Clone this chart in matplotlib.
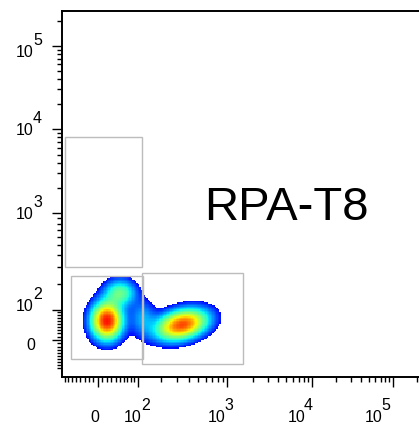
import numpy as np
import matplotlib
matplotlib.use("Agg")
import matplotlib.pyplot as plt
from matplotlib.colors import ListedColormap, PowerNorm
from matplotlib.patches import Rectangle

plt.rcParams['font.family'] = ['Liberation Sans', 'DejaVu Sans']

# ---------------- data ----------------
marker_label = "RPA-T8"

tick_values = [0, 1e2, 1e3, 1e4, 1e5]
tick_exponents = ["", "2", "3", "4", "5"]
axis_max = 262144
x_min = -88
y_min = -123

# cell populations: centres in fluorescence units, spread in display decades
pop_x = [20, 51, 118, 337]
pop_y = [59, 161, 69, 46]
pop_sx = [0.115, 0.12, 0.10, 0.19]
pop_sy = [0.14, 0.10, 0.14, 0.115]
pop_rho = [0.0, 0.0, 0.0, 0.3]
pop_w = [1.0, 0.35, 0.15, 0.9]

# rectangular gates, fluorescence units
gate_x0 = [-80, -63, 115]
gate_x1 = [115, 118, 1544]
gate_y0 = [304, -59, -76]
gate_y1 = [8030, 245, 264]

# ---------------- biexponential-style display scale ----------------
W = 100.0
anchor_vals = np.array([-1e6, -1e5, -1e4, -1e3, -1e2, 0, 1e2, 1e3, 1e4, 1e5, 1e6])
x_anchor_pos = np.array([-4.53, -3.554, -2.578, -1.554, -0.48, 0, 0.48, 1.554, 2.578, 3.554, 4.53])
y_anchor_pos = np.array([-4.53, -3.53, -2.53, -1.518, -0.361, 0, 0.361, 1.518, 2.53, 3.53, 4.53])


def _h(v):
    return np.arcsinh(np.asarray(v, dtype=float) / W) / np.log(10)


def make_scale(pos):
    hv = _h(anchor_vals)

    def fwd(v):
        return np.interp(_h(v), hv, pos)

    def inv(p):
        return W * np.sinh(np.interp(np.asarray(p, dtype=float), pos, hv) * np.log(10))

    return fwd, inv


fx, ix = make_scale(x_anchor_pos)
fy, iy = make_scale(y_anchor_pos)

# ---------------- figure ----------------
fig = plt.figure(figsize=(4.19, 4.32), dpi=100)
ax = fig.add_axes([62 / 419, 55 / 432, 365 / 419, 366 / 432])
ax.set_xscale('function', functions=(fx, ix))
ax.set_yscale('function', functions=(fy, iy))
ax.set_xlim(x_min, axis_max)
ax.set_ylim(y_min, axis_max)

# density in display space
nx, ny = 260, 260
ue = np.linspace(fx(x_min), fx(axis_max), nx + 1)
ve = np.linspace(fy(y_min), fy(axis_max), ny + 1)
uc = 0.5 * (ue[:-1] + ue[1:])
vc = 0.5 * (ve[:-1] + ve[1:])
U, V = np.meshgrid(uc, vc)
D = np.zeros_like(U)
for px, py, sx, sy, r, w in zip(pop_x, pop_y, pop_sx, pop_sy, pop_rho, pop_w):
    du = (U - fx(px)) / sx
    dv = (V - fy(py)) / sy
    q = (du ** 2 - 2 * r * du * dv + dv ** 2) / (1 - r ** 2)
    D += w * np.exp(-0.5 * q)
D /= D.max()
thresh = 0.04
Dm = np.ma.masked_less(D, thresh)

cmap = ListedColormap(plt.cm.jet(np.linspace(0.12, 0.89, 256)))
ax.pcolormesh(ix(ue), iy(ve), Dm, cmap=cmap, norm=PowerNorm(0.7, thresh, 1.0),
              shading='flat', antialiased=False, rasterized=True, zorder=1)

# gates
for x0, x1, y0, y1 in zip(gate_x0, gate_x1, gate_y0, gate_y1):
    ax.add_patch(Rectangle((x0, y0), x1 - x0, y1 - y0, fill=False,
                           edgecolor='#bcbcbc', linewidth=1.0, zorder=3))

ax.text(0.616, 0.429, marker_label, transform=ax.transAxes, ha='center',
        va='baseline', fontsize=34, color='black')

# axes styling
for side in ['left', 'bottom', 'top', 'right']:
    ax.spines[side].set_linewidth(1.4)
ax.set_xticks(tick_values)
ax.set_yticks(tick_values)
minor = ([-s * 10 for s in range(1, 10)] + [s * 10 for s in range(1, 10)] +
         [m * 10 ** k for k in range(2, 6) for m in range(2, 10)])
ax.set_xticks([v for v in minor if x_min < v < axis_max], minor=True)
ax.set_yticks([v for v in minor if y_min < v < axis_max], minor=True)
ax.tick_params(which='major', length=7, width=1.0, direction='out',
               labelbottom=False, labelleft=False)
ax.tick_params(which='minor', length=3.6, width=1.0, direction='out')

# tick labels, drawn as base + raised exponent
x_label_shift = [-3, 1, -4.5, -10, -14]
y_label_shift = [4, -10, -5, -5, 0]
fs = 11.5
xt = ax.get_xaxis_transform()
yt = ax.get_yaxis_transform()
for v, e, s in zip(tick_values, tick_exponents, x_label_shift):
    if e == "":
        ax.annotate("0", xy=(v, 0), xycoords=xt, xytext=(s, -45),
                    textcoords='offset pixels', ha='center', va='baseline', fontsize=fs)
    else:
        ax.annotate("10", xy=(v, 0), xycoords=xt, xytext=(s + 3, -45),
                    textcoords='offset pixels', ha='right', va='baseline', fontsize=fs)
        ax.annotate(e, xy=(v, 0), xycoords=xt, xytext=(s + 2, -33),
                    textcoords='offset pixels', ha='left', va='baseline', fontsize=fs)
for v, e, s in zip(tick_values, tick_exponents, y_label_shift):
    if e == "":
        ax.annotate("0", xy=(0, v), xycoords=yt, xytext=(-27, -(s + 6)),
                    textcoords='offset pixels', ha='right', va='baseline', fontsize=fs)
    else:
        ax.annotate("10", xy=(0, v), xycoords=yt, xytext=(-29, -(s + 11)),
                    textcoords='offset pixels', ha='right', va='baseline', fontsize=fs)
        ax.annotate(e, xy=(0, v), xycoords=yt, xytext=(-29, -(s - 1)),
                    textcoords='offset pixels', ha='left', va='baseline', fontsize=fs)

fig.savefig("out.png", dpi=100)
